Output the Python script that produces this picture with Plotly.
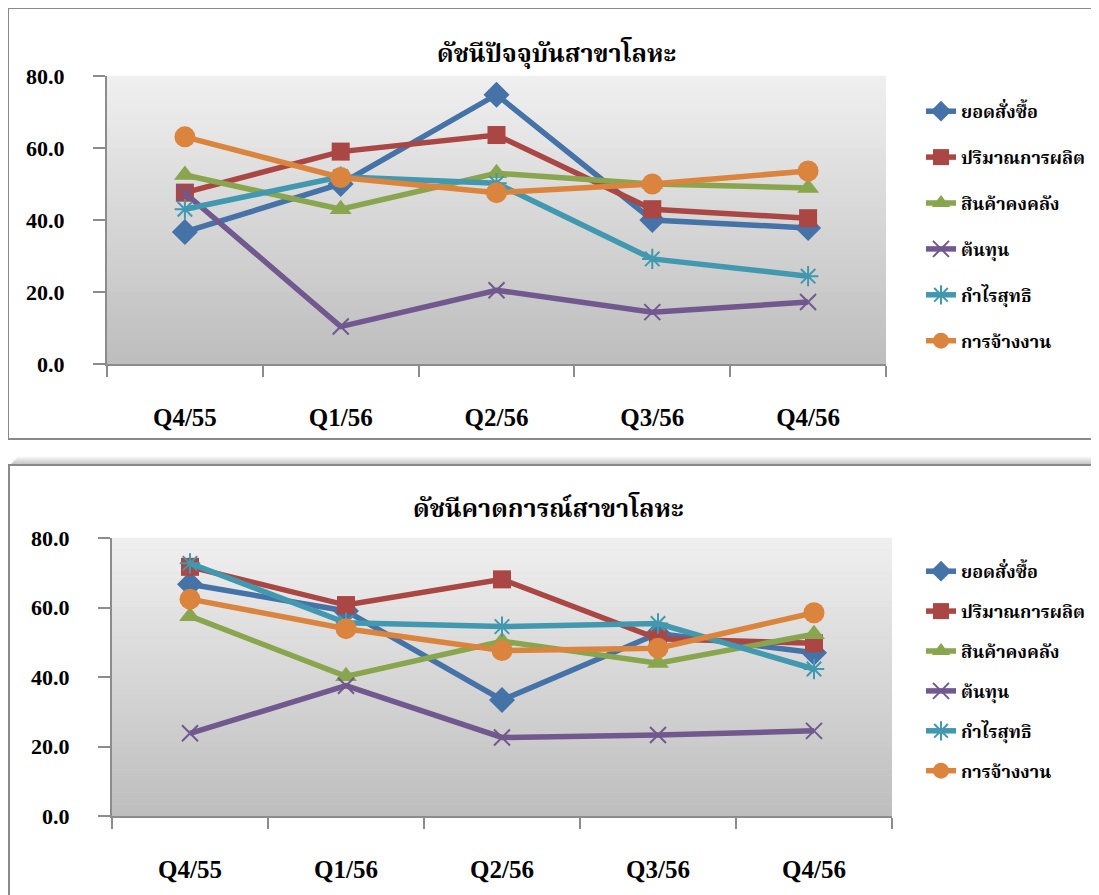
import plotly.graph_objects as go

categories = ["Q4/55", "Q1/56", "Q2/56", "Q3/56", "Q4/56"]
series_names = ["ยอดสั่งซื้อ", "ปริมาณการผลิต", "สินค้าคงคลัง", "ต้นทุน", "กำไรสุทธิ", "การจ้างงาน"]
title_current = "ดัชนีปัจจุบันสาขาโลหะ"
title_forecast = "ดัชนีคาดการณ์สาขาโลหะ"
y_ticks = [0, 20, 40, 60, 80]

current_orders = [36.7, 50.0, 74.8, 40.0, 37.8]
current_production = [47.6, 59.0, 63.6, 43.0, 40.5]
current_inventory = [52.5, 43.0, 53.0, 50.0, 48.9]
current_cost = [47.5, 10.4, 20.5, 14.4, 17.2]
current_profit = [43.0, 52.0, 50.2, 29.2, 24.4]
current_employment = [63.1, 51.8, 47.6, 50.0, 53.6]

forecast_orders = [66.7, 59.0, 33.4, 52.5, 47.0]
forecast_production = [71.7, 60.7, 68.1, 51.0, 49.7]
forecast_inventory = [57.5, 40.2, 50.3, 44.0, 52.3]
forecast_cost = [23.8, 37.5, 22.6, 23.3, 24.5]
forecast_profit = [72.7, 55.6, 54.5, 55.4, 42.3]
forecast_employment = [62.4, 53.9, 47.6, 48.3, 58.5]

current = [current_orders, current_production, current_inventory,
           current_cost, current_profit, current_employment]
forecast = [forecast_orders, forecast_production, forecast_inventory,
            forecast_cost, forecast_profit, forecast_employment]

colors = ["#4572A7", "#AA4643", "#89A54E", "#71588F", "#4198AF", "#DB843D"]
symbols = ["diamond", "square", "triangle-up", "x-thin-open", "asterisk-open", "circle"]
sizes = [20, 18, 19, 16, 17, 21]

# page has an 8px body margin; figure sized to fit the window exactly
OFF = 8
W, H = 1099 - OFF, 895 - OFF
def px(x):
    return (x - OFF) / W
def py(y):
    return 1 - (y - OFF) / H

THAI = "Angsana New, Noto Serif Thai, Noto Sans Thai, Liberation Serif, serif"
SERIF = "Liberation Serif, Times New Roman, serif"

fig = go.Figure()

for k, (data, xa, ya, lg) in enumerate([(current, "x", "y", "legend"),
                                         (forecast, "x2", "y2", "legend2")]):
    for i, name in enumerate(series_names):
        open_sym = symbols[i].endswith("open")
        fig.add_trace(go.Scatter(
            x=categories, y=data[i], name=name, mode="lines+markers",
            xaxis=xa, yaxis=ya, legend=lg, legendgroup=f"{k}-{i}",
            line=dict(color=colors[i], width=5.5),
            marker=dict(symbol=symbols[i], size=sizes[i], color=colors[i],
                        line=dict(color=colors[i], width=2 if open_sym else 0)),
        ))

# plot-area geometry (screen pixels)
top_area = dict(x0=107, x1=886, y0=76, y1=364)
bot_area = dict(x0=112, x1=892, y0=538, y1=816)

axis_common = dict(showgrid=False, zeroline=False, showline=True,
                   linecolor="#8c8c8c", linewidth=2, ticks="outside",
                   tickcolor="#8c8c8c", tickwidth=2, automargin=False)
xfont = dict(family=SERIF, size=25, color="black", weight="bold")
yfont = dict(family=SERIF, size=22, color="black", weight="bold")

fig.update_layout(
    width=W, height=H,
    margin=dict(l=0, r=0, t=0, b=0, pad=0, autoexpand=False),
    paper_bgcolor="white", plot_bgcolor="#d6d6d6",
    showlegend=True,
    xaxis=dict(domain=[px(top_area["x0"]), px(top_area["x1"])], anchor="y",
               range=[-0.5, 4.5], tickson="boundaries", ticklen=11,
               ticklabelstandoff=30, tickfont=xfont, **axis_common),
    yaxis=dict(domain=[py(top_area["y1"]), py(top_area["y0"])], anchor="x",
               range=[0, 80], tickvals=y_ticks, tickformat=".1f", ticklen=12,
               ticklabelstandoff=24, tickfont=yfont, **axis_common),
    xaxis2=dict(domain=[px(bot_area["x0"]), px(bot_area["x1"])], anchor="y2",
                range=[-0.5, 4.5], tickson="boundaries", ticklen=11,
                ticklabelstandoff=30, tickfont=xfont, **axis_common),
    yaxis2=dict(domain=[py(bot_area["y1"]), py(bot_area["y0"])], anchor="x2",
                range=[0, 80], tickvals=y_ticks, tickformat=".1f", ticklen=12,
                ticklabelstandoff=24, tickfont=yfont, **axis_common),
    legend=dict(x=px(921), y=py(93), xanchor="left", yanchor="top",
                bgcolor="rgba(0,0,0,0)", tracegroupgap=19.5,
                font=dict(family=THAI, size=18, color="black", weight="bold")),
    legend2=dict(x=px(921), y=py(553), xanchor="left", yanchor="top",
                 bgcolor="rgba(0,0,0,0)", tracegroupgap=13.5,
                 font=dict(family=THAI, size=18, color="black", weight="bold")),
)

# titles
fig.add_annotation(text=title_current, xref="paper", yref="paper",
                   x=px(556), y=py(55), xanchor="center", yanchor="middle",
                   showarrow=False,
                   font=dict(family=THAI, size=25, color="black", weight="bold"))
fig.add_annotation(text=title_forecast, xref="paper", yref="paper",
                   x=px(548), y=py(510), xanchor="center", yanchor="middle",
                   showarrow=False,
                   font=dict(family=THAI, size=25, color="black", weight="bold"))

shapes = []
# gradient background bands in plot areas
n = 48
c_top, c_bot = (239, 239, 239), (190, 190, 190)
for xr, yr in [("x domain", "y domain"), ("x2 domain", "y2 domain")]:
    for j in range(n):
        t = j / (n - 1)
        c = tuple(int(round(c_top[m] + (c_bot[m] - c_top[m]) * t)) for m in range(3))
        shapes.append(dict(type="rect", xref=xr, yref=yr, x0=0, x1=1,
                           y0=1 - (j + 1) / n, y1=1 - j / n + 0.001,
                           fillcolor=f"rgb{c}", line=dict(width=0), layer="below"))

# box shadows
for top_y, left_x in [(8, 7), (465, 8)]:
    for s in range(8):
        a = 0.05 + 0.06 * s
        yy = top_y - 8 + s
        if yy < OFF:
            continue
        shapes.append(dict(type="line", xref="paper", yref="paper",
                           x0=px(left_x + 10 - s), x1=1.0,
                           y0=py(yy), y1=py(yy),
                           line=dict(color=f"rgba(120,120,120,{a:.2f})", width=1.2)))

# boxes
shapes.append(dict(type="rect", xref="paper", yref="paper",
                   x0=px(8), x1=px(1105), y0=py(439), y1=py(8),
                   line=dict(color="#8a8a8a", width=2), fillcolor="rgba(0,0,0,0)"))
shapes.append(dict(type="rect", xref="paper", yref="paper",
                   x0=px(9), x1=px(1105), y0=py(905), y1=py(465),
                   line=dict(color="#8a8a8a", width=2), fillcolor="rgba(0,0,0,0)"))

fig.update_layout(shapes=shapes)

fig.write_html("out.html")
